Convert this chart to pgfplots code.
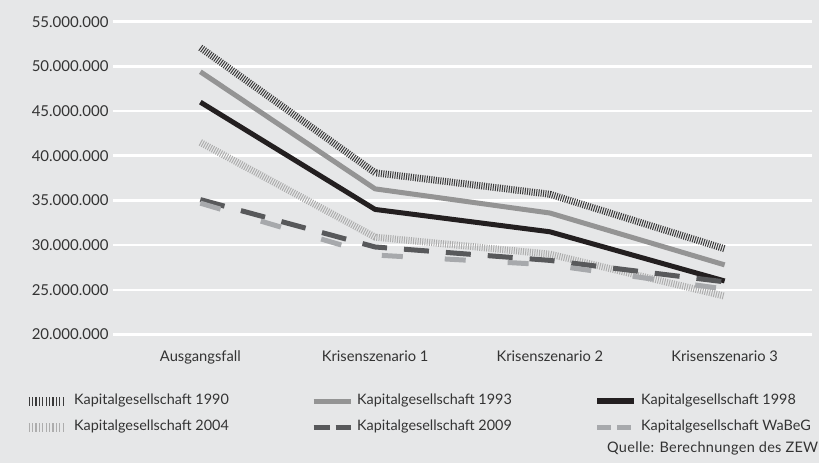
\documentclass[border=0pt]{standalone}
\usepackage{fontspec}
\setmainfont{Lato}
\usepackage{pgfplots}
\pgfplotsset{compat=1.18}
\definecolor{bg}{HTML}{E6E7E8}
\definecolor{txt}{HTML}{333333}
\definecolor{c1990}{HTML}{3A3A3A}
\definecolor{c1993}{HTML}{949494}
\definecolor{c1998}{HTML}{231F20}
\definecolor{c2004}{HTML}{ADADAD}
\definecolor{c2009}{HTML}{58595B}
\definecolor{cwabeg}{HTML}{A7A9AC}
\begin{document}
\begin{tikzpicture}[x=1pt,y=1pt]
\useasboundingbox (0,0) rectangle (819,463);
\clip (0,0) rectangle (819,463);
\fill[bg] (0,0) rectangle (819,463);
\begin{axis}[
  at={(113pt,128.4pt)}, anchor=south west,
  scale only axis, width=699pt, height=312.9pt,
  xmin=-0.5, xmax=3.5, ymin=20, ymax=55,
  axis line style={draw=none},
  major tick length=0pt,
  ymajorgrids, major grid style={white, line width=2.6pt},
  ytick={20,25,30,35,40,45,50,55},
  yticklabels={20.000.000,25.000.000,30.000.000,35.000.000,40.000.000,45.000.000,50.000.000,55.000.000},
  xtick={0,1,2,3},
  xticklabels={Ausgangsfall,Krisenszenario 1,Krisenszenario 2,Krisenszenario 3},
  yticklabel style={font=\fontsize{15}{18}\selectfont, text=txt, xshift=-1pt},
  xticklabel style={font=\fontsize{14.7}{17}\selectfont, text=txt, yshift=-13pt},
  legend columns=3,
  legend style={at={(rel axis cs:0,0)}, anchor=north west, xshift=-89pt, yshift=-60pt,
    draw=none, fill=none, inner sep=0pt, row sep=13pt,
    font=\fontsize{14.4}{17}\selectfont, text=txt,
    nodes={inner sep=0pt, text height=10pt, text depth=3pt},
    /tikz/every odd column/.append style={column sep=4pt}},
  every axis plot/.append style={line join=round, line cap=butt},
]
\addplot[c1990, line width=7pt, dash pattern=on 1pt off 1.3pt,
  legend image code/.code={\draw[c1990, line width=9pt, dash pattern=on 1.2pt off 2.2pt] (0pt,0pt) -- (37pt,0pt);}]
  coordinates {(0,52.1) (1,38.1) (2,35.7) (3,29.6)};
\addlegendentry{\makebox[237pt][l]{Kapitalgesellschaft 1990}}
\addplot[c1993, line width=5pt,
  legend image code/.code={\draw[c1993, line width=5pt] (0pt,0pt) -- (37pt,0pt);}]
  coordinates {(0,49.4) (1,36.3) (2,33.6) (3,27.8)};
\addlegendentry{\makebox[237pt][l]{Kapitalgesellschaft 1993}}
\addplot[c1998, line width=5pt,
  legend image code/.code={\draw[c1998, line width=6pt] (0pt,0pt) -- (37pt,0pt);}]
  coordinates {(0,46.0) (1,34.0) (2,31.5) (3,26.0)};
\addlegendentry{\makebox[237pt][l]{Kapitalgesellschaft 1998}}
\addplot[c2004, line width=7pt, dash pattern=on 1pt off 1.3pt,
  legend image code/.code={\draw[c2004, line width=9pt, dash pattern=on 1.2pt off 2.2pt] (0pt,0pt) -- (37pt,0pt);}]
  coordinates {(0,41.5) (1,30.9) (2,29.0) (3,24.3)};
\addlegendentry{\makebox[237pt][l]{Kapitalgesellschaft 2004}}
\addplot[c2009, line width=5pt, dash pattern=on 25pt off 17pt,
  legend image code/.code={\draw[c2009, line width=5pt, dash pattern=on 16pt off 6pt] (0pt,0pt) -- (37pt,0pt);}]
  coordinates {(0,35.1) (1,29.8) (2,28.3) (3,25.9)};
\addlegendentry{\makebox[237pt][l]{Kapitalgesellschaft 2009}}
\addplot[cwabeg, line width=5pt, dash pattern=on 21pt off 42pt,
  legend image code/.code={\draw[cwabeg, line width=5pt, dash pattern=on 14pt off 6pt] (0pt,0pt) -- (34pt,0pt);}]
  coordinates {(0,34.7) (1,28.9) (2,27.8) (3,25.1)};
\addlegendentry{\makebox[237pt][l]{Kapitalgesellschaft WaBeG}}
\end{axis}
\node[anchor=base west, font=\fontsize{14.5}{17}\selectfont\addfontfeatures{LetterSpace=2}, text=txt, inner sep=0pt] at (607,10) {Quelle: Berechnungen des ZEW};
\end{tikzpicture}
\end{document}
